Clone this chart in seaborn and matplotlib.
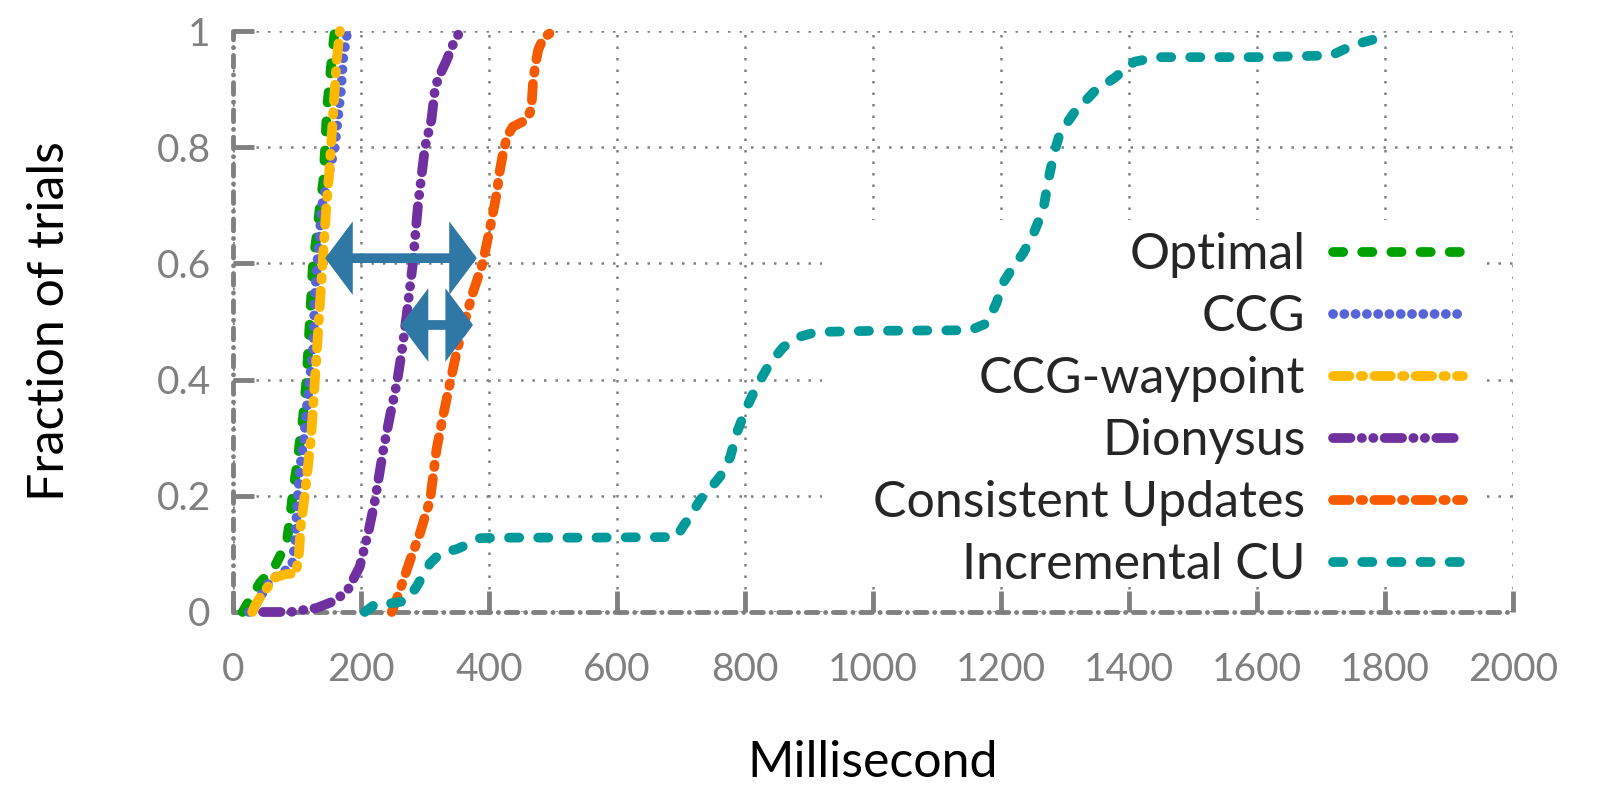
import pandas as pd
import matplotlib.pyplot as plt
import seaborn as sns
from matplotlib.patches import Rectangle

# ==========================
# Data
# ==========================
schemes = ["Optimal", "CCG", "CCG-waypoint", "Dionysus",
           "Consistent Updates", "Incremental CU"]

optimal_ms = [15, 23, 42, 66, 84, 89, 94, 101, 105, 109, 112, 115, 120,
              125, 131, 136, 141, 144, 147, 150, 154, 159]
optimal_frac = [0.0, 0.015, 0.05, 0.08, 0.12, 0.16, 0.21, 0.26, 0.30, 0.33,
                0.365, 0.40, 0.50, 0.60, 0.65, 0.70, 0.74, 0.80, 0.87, 0.90,
                0.95, 1.0]

ccg_ms = [25, 37, 58, 80, 92, 97, 101, 105, 111, 115, 120, 125, 128, 133,
          139, 149, 159, 165, 169, 172, 176, 179]
ccg_frac = [0.0, 0.015, 0.055, 0.07, 0.08, 0.12, 0.20, 0.25, 0.30, 0.35,
            0.40, 0.45, 0.55, 0.62, 0.70, 0.75, 0.80, 0.86, 0.90, 0.95,
            0.98, 1.0]

waypoint_ms = [30, 34, 45, 55, 66, 82, 99, 101, 103, 106, 112, 122, 128,
               134, 140, 146, 150, 153, 156, 159, 162, 165, 167]
waypoint_frac = [0.0, 0.01, 0.03, 0.044, 0.06, 0.065, 0.067, 0.09, 0.10,
                 0.15, 0.20, 0.30, 0.40, 0.50, 0.60, 0.70, 0.75, 0.80, 0.85,
                 0.90, 0.95, 0.98, 1.0]

dionysus_ms = [47, 90, 131, 156, 178, 198, 211, 222, 235, 245, 256, 264,
               271, 281, 289, 300, 310, 316, 323, 334, 342, 355]
dionysus_frac = [0.0, 0.0, 0.007, 0.018, 0.035, 0.078, 0.135, 0.193, 0.28,
                 0.336, 0.394, 0.45, 0.508, 0.60, 0.70, 0.80, 0.847, 0.904,
                 0.924, 0.95, 0.973, 1.0]

cu_ms = [248, 261, 277, 292, 308, 318, 328, 339, 350, 362, 375, 390, 402,
         412, 417, 422, 428, 437, 453, 464, 467, 469, 473, 477, 485, 500]
cu_frac = [0.0, 0.038, 0.09, 0.135, 0.193, 0.28, 0.336, 0.394, 0.45, 0.50,
           0.55, 0.60, 0.663, 0.72, 0.76, 0.79, 0.818, 0.835, 0.844, 0.859,
           0.88, 0.916, 0.945, 0.968, 0.988, 1.0]

inc_cu_ms = [206, 224, 250, 272, 287, 308, 323, 334, 349, 370, 386, 412,
             550, 693, 703, 714, 730, 740, 761, 777, 787, 803, 818, 839, 860,
             886, 912, 1000, 1152, 1178, 1193, 1203, 1219, 1235, 1251, 1266,
             1274, 1283, 1292, 1314, 1346, 1377, 1408, 1444, 1600, 1716,
             1751, 1797, 1800]
inc_cu_frac = [0.0, 0.015, 0.015, 0.02, 0.044, 0.084, 0.10, 0.104, 0.108,
               0.118, 0.127, 0.128, 0.128, 0.129, 0.147, 0.164, 0.193, 0.205,
               0.233, 0.267, 0.308, 0.353, 0.388, 0.428, 0.456, 0.474, 0.482,
               0.484, 0.485, 0.497, 0.532, 0.566, 0.594, 0.618, 0.652, 0.692,
               0.744, 0.79, 0.824, 0.859, 0.896, 0.919, 0.947, 0.955, 0.955,
               0.958, 0.976, 0.99, 1.0]

x_ticks = [0, 200, 400, 600, 800, 1000, 1200, 1400, 1600, 1800, 2000]
y_ticks = [0, 0.2, 0.4, 0.6, 0.8, 1.0]
y_tick_labels = ["0", "0.2", "0.4", "0.6", "0.8", "1"]

# double-headed "gap" arrows: (from ms, to ms) at a fraction level
gap_arrows_ms = [(144, 381), (262, 375)]
gap_arrows_frac = [0.609, 0.494]

# ==========================
# Long-form table
# ==========================
series = {
    "Optimal": (optimal_ms, optimal_frac),
    "CCG": (ccg_ms, ccg_frac),
    "CCG-waypoint": (waypoint_ms, waypoint_frac),
    "Dionysus": (dionysus_ms, dionysus_frac),
    "Consistent Updates": (cu_ms, cu_frac),
    "Incremental CU": (inc_cu_ms, inc_cu_frac),
}
df = pd.concat(
    [pd.DataFrame({"ms": xs, "frac": ys, "scheme": name})
     for name, (xs, ys) in series.items()],
    ignore_index=True,
)

colors = {
    "Optimal": "#00A000",
    "CCG": "#5664D8",
    "CCG-waypoint": "#FFB800",
    "Dionysus": "#7030A0",
    "Consistent Updates": "#F55A00",
    "Incremental CU": "#009A9A",
}
# dash patterns in units of line width (gnuplot-like)
dash_map = {
    "Optimal": (1.05, 1.95),
    "CCG": (0.01, 1.15),
    "CCG-waypoint": (1.7, 1.15, 0.25, 1.15),
    "Dionysus": (1.8, 1.15, 0.03, 1.15, 0.03, 1.15),
    "Consistent Updates": (1.7, 1.15, 0.25, 1.15),
    "Incremental CU": (1.05, 1.95),
}
gray = "#808080"
arrow_color = "#2F78A6"

# ==========================
# Plot
# ==========================
sns.set_theme(style="white")
plt.rcParams["font.family"] = ["Lato", "DejaVu Sans"]

fig = plt.figure(figsize=(16, 7.87), dpi=100)
ax = fig.add_axes([233 / 1600, 175 / 787, 1280 / 1600, 581 / 787])

sns.lineplot(
    data=df, x="ms", y="frac",
    hue="scheme", style="scheme",
    hue_order=schemes, style_order=schemes,
    palette=colors, dashes=dash_map,
    estimator=None, sort=False, legend=False,
    linewidth=7, dash_capstyle="round", solid_capstyle="round",
    clip_on=False, zorder=3, ax=ax,
)

ax.set_xlim(0, 2000)
ax.set_ylim(0, 1)
ax.set_xticks(x_ticks)
ax.set_yticks(y_ticks, y_tick_labels)

ax.set_axisbelow(True)
ax.grid(True, color="#808080", linestyle=(0, (1, 3.6)), linewidth=1.8)

ax.tick_params(axis="both", direction="in", length=15, width=3.5,
               color=gray, labelcolor=gray, labelsize=28,
               bottom=True, left=True)
ax.tick_params(axis="x", pad=29)
ax.tick_params(axis="y", pad=16)

for side in ["top", "right"]:
    ax.spines[side].set_visible(False)
for side in ["left", "bottom"]:
    sp = ax.spines[side]
    sp.set_color(gray)
    sp.set_linewidth(3.5)
    sp.set_linestyle((0, (2.4, 1.6, 0.01, 1.6)))
    sp.set_capstyle("round")

ax.set_xlabel("Millisecond", fontsize=36, color="black")
ax.set_ylabel("Fraction of trials", fontsize=36, color="black")
ax.xaxis.set_label_coords(0.5, -0.22)
ax.yaxis.set_label_coords(-0.125, 0.5)

# opaque key area (hides grid behind the legend, lines stay on top)
ax.add_patch(Rectangle((0.460, 0.045), 0.520, 0.630, transform=ax.transAxes,
                       facecolor="white", edgecolor="none", zorder=1))

leg = ax.legend(
    ax.lines[:len(schemes)], schemes,
    loc="upper right", bbox_to_anchor=(0.961, 0.654),
    frameon=False, markerfirst=False, fontsize=36,
    handlelength=2.6, handletextpad=0.55, labelspacing=0.32,
    borderpad=0, borderaxespad=0,
)
leg.set_zorder(2)

# gap arrows
for (x0, x1), yv in zip(gap_arrows_ms, gap_arrows_frac):
    ax.annotate(
        "", xy=(x1, yv), xytext=(x0, yv),
        arrowprops=dict(arrowstyle="<|-|>,head_length=0.6,head_width=0.8",
                        mutation_scale=20, color=arrow_color, lw=7,
                        shrinkA=0, shrinkB=0, joinstyle="miter"),
        zorder=4,
    )

plt.savefig("out.png", dpi=100)
